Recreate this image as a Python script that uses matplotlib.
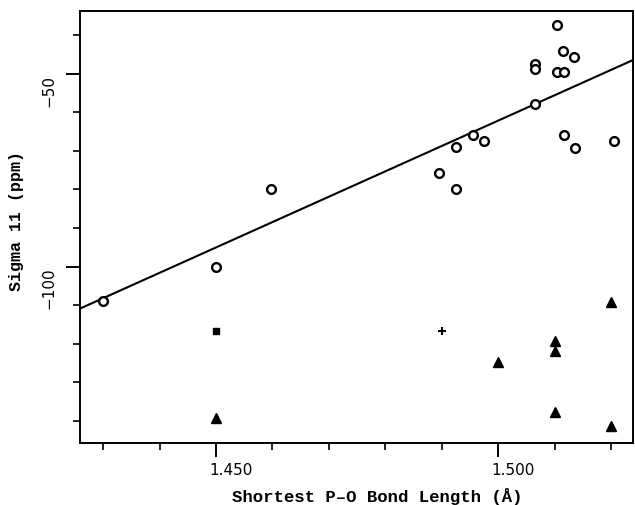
import matplotlib
matplotlib.use("Agg")
import matplotlib.pyplot as plt
import matplotlib.transforms as mtransforms
import numpy as np

# ---- data ----
circle_x = [1.430, 1.450, 1.4597, 1.5104, 1.5115, 1.5135, 1.5066, 1.5066, 1.5104, 1.5116,
            1.5066, 1.4955, 1.4975, 1.4926, 1.5117, 1.5137, 1.5206, 1.4896, 1.4926]
circle_y = [-108.9, -100.0, -79.8, -37.4, -44.2, -45.8, -47.6, -48.8, -49.6, -49.6,
            -57.8, -66.0, -67.4, -69.0, -65.8, -69.2, -67.6, -75.8, -80.0]

triangle_x = [1.450, 1.500, 1.510, 1.510, 1.510, 1.520, 1.520]
triangle_y = [-139.2, -124.8, -119.3, -121.9, -137.7, -109.2, -141.3]

square_x = [1.450]
square_y = [-116.7]

plus_x = [1.490]
plus_y = [-116.7]

fit_slope = 657.0
fit_intercept = -1047.7

xlim = (1.4259, 1.5239)
ylim = (-145.7, -33.8)
xmajor = [1.450, 1.500]
xmajor_labels = ["1.450", "1.500"]
xminor = [1.430, 1.440, 1.460, 1.470, 1.480, 1.490, 1.510, 1.520]
ymajor = [-50, -100]
ymajor_labels = ["\u221250", "\u2212100"]
yminor = [-40, -60, -70, -80, -90, -110, -120, -130, -140]

# ---- figure ----
fig = plt.figure(figsize=(6.35, 5.06), dpi=100)
ax = fig.add_axes([80/635, 1-444/506, 553/635, 432/506])

fx = np.array(xlim)
ax.plot(fx, fit_intercept + fit_slope * fx, color="black", lw=1.5, zorder=2)

ax.plot(circle_x, circle_y, ls="none", marker="o", ms=6.3, mfc="white", mec="black", mew=1.7, zorder=3)
ax.plot(triangle_x, triangle_y, ls="none", marker="^", ms=7.5, color="black", zorder=3)
ax.plot(square_x, square_y, ls="none", marker="s", ms=4.5, color="black", zorder=3)
ax.plot(plus_x, plus_y, ls="none", marker="+", ms=6, mew=1.5, color="black", zorder=3)

ax.set_xlim(*xlim)
ax.set_ylim(*ylim)

for s in ax.spines.values():
    s.set_linewidth(1.4)

ax.set_xticks(xmajor)
ax.set_xticklabels(xmajor_labels)
ax.set_xticks(xminor, minor=True)
ax.set_yticks(ymajor)
ax.set_yticklabels(ymajor_labels)
ax.set_yticks(yminor, minor=True)

ax.tick_params(which="major", length=10, width=1.4, direction="out")
ax.tick_params(which="minor", length=5, width=1.2, direction="out")
ax.tick_params(axis="x", which="major", pad=4, labelsize=11)
ax.tick_params(axis="y", which="major", pad=7, labelsize=11)

for lab in ax.get_xticklabels():
    lab.set_fontfamily("DejaVu Sans")
    lab.set_ha("left")
    lab.set_transform(lab.get_transform() + mtransforms.ScaledTranslation(-0.07, 0, fig.dpi_scale_trans))
for lab in ax.get_yticklabels():
    lab.set_fontfamily("DejaVu Sans")
    lab.set_rotation(90)
    lab.set_va("top")

ax.set_xlabel("Shortest P\u2013O Bond Length (\u00c5)", family="Liberation Mono",
              weight="bold", fontsize=12.5)
ax.xaxis.set_label_coords(297.5/553, (444-488)/432)
ax.set_ylabel("Sigma 11 (ppm)", family="Liberation Mono", weight="bold", fontsize=12)
ax.yaxis.set_label_coords((24-80)/553, (444-221)/432)

fig.savefig("out.png", dpi=100)
